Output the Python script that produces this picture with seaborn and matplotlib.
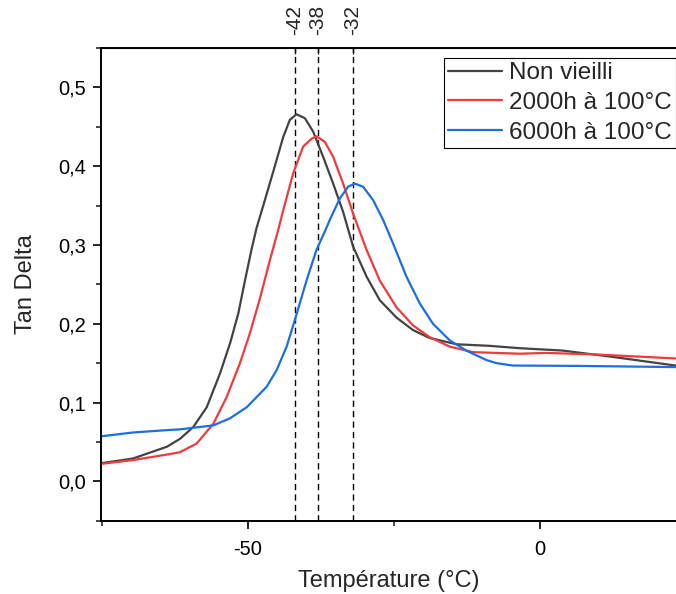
import matplotlib
matplotlib.use("Agg")
import matplotlib.pyplot as plt
import seaborn as sns
import pandas as pd
from matplotlib.ticker import MultipleLocator, FuncFormatter

# ---- data ----
T_nv = [-75.17, -69.69, -63.87, -61.64, -59.37, -57.07, -54.79, -53.08, -51.66, -50.51, -49.37, -48.51,
        -47.38, -45.67, -43.96, -42.81, -41.66, -40.24, -38.82, -37.11, -35.39, -33.68, -31.97, -29.67,
        -27.40, -24.54, -21.70, -18.84, -14.26, -8.56, -3.42, 3.94, 12.50, 23.29]
y_nv = [0.023, 0.029, 0.044, 0.054, 0.069, 0.094, 0.137, 0.175, 0.213, 0.255, 0.295, 0.322,
        0.350, 0.393, 0.437, 0.459, 0.466, 0.461, 0.444, 0.412, 0.378, 0.342, 0.298, 0.260,
        0.230, 0.208, 0.192, 0.182, 0.174, 0.172, 0.169, 0.166, 0.158, 0.147]

T_2000 = [-75.34, -69.69, -63.87, -61.64, -58.78, -55.94, -53.65, -51.37, -49.66, -47.95, -46.23, -44.81,
          -43.96, -42.24, -40.53, -39.09, -38.24, -36.82, -35.39, -33.68, -31.97, -29.67, -27.40, -24.54,
          -21.70, -18.84, -15.41, -11.42, -3.42, 1.20, 9.76, 23.29]
y_2000 = [0.022, 0.027, 0.034, 0.037, 0.048, 0.073, 0.107, 0.150, 0.188, 0.232, 0.281, 0.319,
          0.344, 0.391, 0.425, 0.435, 0.438, 0.431, 0.412, 0.378, 0.340, 0.294, 0.255, 0.221,
          0.198, 0.183, 0.171, 0.164, 0.162, 0.163, 0.161, 0.156]

T_6000 = [-75.34, -69.69, -63.87, -61.64, -55.94, -53.08, -50.22, -46.80, -45.09, -43.37, -41.95, -39.95,
          -38.24, -36.70, -35.96, -34.25, -32.83, -31.68, -30.26, -28.54, -26.83, -25.12, -22.83, -20.55,
          -18.27, -15.41, -12.55, -9.13, -7.36, -4.62, 6.85, 23.29]
y_6000 = [0.057, 0.062, 0.065, 0.066, 0.071, 0.080, 0.094, 0.120, 0.141, 0.171, 0.205, 0.255,
          0.294, 0.319, 0.332, 0.359, 0.374, 0.378, 0.374, 0.357, 0.332, 0.302, 0.260, 0.226,
          0.200, 0.179, 0.166, 0.154, 0.150, 0.147, 0.1465, 0.145]

labels = ["Non vieilli", "2000h à 100°C", "6000h à 100°C"]
colors = ["#434343", "#F03A3C", "#1C6FE0"]
peaks = [-42, -38, -32]
peak_labels = ["-42", "-38", "-32"]

# ---- build table ----
df = pd.concat([
    pd.DataFrame({"T": T_nv, "tan": y_nv, "s": labels[0]}),
    pd.DataFrame({"T": T_2000, "tan": y_2000, "s": labels[1]}),
    pd.DataFrame({"T": T_6000, "tan": y_6000, "s": labels[2]}),
], ignore_index=True)

sns.set_style("ticks")
plt.rcParams["font.family"] = ["Liberation Sans", "DejaVu Sans"]

fig = plt.figure(figsize=(6.76, 5.94), dpi=100)
ax = fig.add_axes([101 / 676, 1 - 520.7 / 594, 1 - 101 / 676, (520.7 - 47.7) / 594])

sns.lineplot(data=df, x="T", y="tan", hue="s", palette=colors, hue_order=labels,
             sort=False, estimator=None, lw=1.6, ax=ax)

for p in peaks:
    ax.axvline(p, color="black", lw=1.0, ls=(0, (4.5, 3)), zorder=1)

ax.set_xlim(-75.2, 23.4)
ax.set_ylim(-0.05, 0.5505)
ax.xaxis.set_major_locator(MultipleLocator(50))
ax.xaxis.set_minor_locator(MultipleLocator(25))
ax.yaxis.set_major_locator(MultipleLocator(0.1))
ax.yaxis.set_minor_locator(MultipleLocator(0.05))
ax.yaxis.set_major_formatter(FuncFormatter(lambda v, _: f"{v:.1f}".replace(".", ",")))
ax.xaxis.set_major_formatter(FuncFormatter(lambda v, _: f"{v:.0f}"))

ax.tick_params(which="major", direction="out", length=6, width=1.2, labelsize=14.5, colors="black")
ax.tick_params(axis="x", which="major", pad=8)
ax.tick_params(axis="y", which="major", pad=5)
ax.tick_params(which="minor", direction="out", length=3.5, width=1.2)
for s in ["left", "bottom", "top"]:
    ax.spines[s].set_linewidth(1.4)
    ax.spines[s].set_color("black")
ax.spines["right"].set_visible(False)

ax.set_xlabel("Température (°C)", fontsize=17, labelpad=8)
ax.set_ylabel("Tan Delta", fontsize=17, labelpad=15)

top = ax.secondary_xaxis("top")
top.set_xticks(peaks, labels=peak_labels)
top.tick_params(direction="in", length=4, width=1.0, labelsize=15, labelrotation=90, pad=9)

leg = ax.legend(loc="upper right", bbox_to_anchor=(1.0, 1 - 10 / 473), fontsize=17.5,
                frameon=True, fancybox=False, edgecolor="black", framealpha=1,
                handlelength=2.2, handletextpad=0.3, labelspacing=0.32, borderpad=0.18,
                borderaxespad=0.0, title=None)
leg.get_frame().set_linewidth(0.8)
for h in leg.get_lines():
    h.set_linewidth(1.6)

fig.savefig("out.png", dpi=100)
